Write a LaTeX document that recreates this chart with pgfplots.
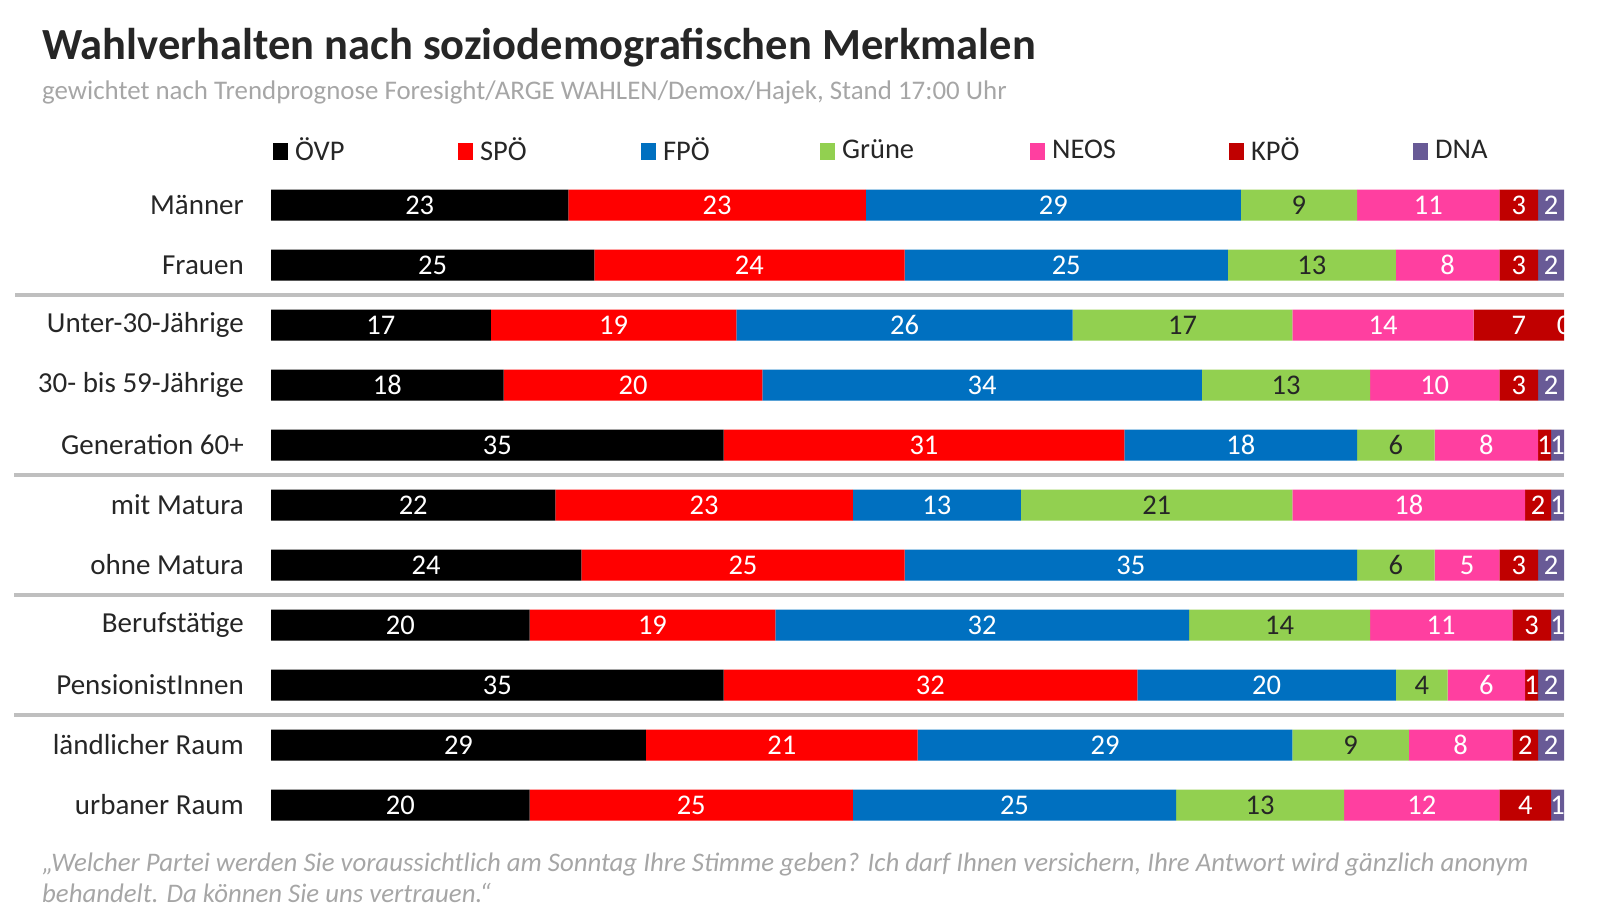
\documentclass[border=0pt]{standalone}
\usepackage{pgfplots}
\usepackage{pgfplotstable}
\pgfplotsset{compat=1.18}
\usepackage{fontspec}
\setmainfont{Carlito}
\definecolor{oevp}{HTML}{000000}
\definecolor{spoe}{HTML}{FF0000}
\definecolor{fpoe}{HTML}{0070C0}
\definecolor{gruene}{HTML}{92D050}
\definecolor{neos}{HTML}{FF3FA0}
\definecolor{kpoe}{HTML}{C00000}
\definecolor{dna}{HTML}{685A96}
\definecolor{sepgray}{HTML}{BFBFBF}
\definecolor{subgray}{HTML}{A6A6A6}
\definecolor{titlecol}{HTML}{262626}
\definecolor{labcol}{HTML}{262626}

\pgfplotstableread{
row v1 v2 v3 v4 v5 v6 v7
0 23 23 29 9 11 3 2
1 25 24 25 13 8 3 2
2 17 19 26 17 14 7 0
3 18 20 34 13 10 3 2
4 35 31 18 6 8 1 1
5 22 23 13 21 18 2 1
6 24 25 35 6 5 3 2
7 20 19 32 14 11 3 1
8 35 32 20 4 6 1 2
9 29 21 29 9 8 2 2
10 20 25 25 13 12 4 1
}\data
\pgfplotstablecreatecol[create col/expr={\thisrow{v1}/2}]{m1}\data
\pgfplotstablecreatecol[create col/expr={\thisrow{v1}+\thisrow{v2}/2}]{m2}\data
\pgfplotstablecreatecol[create col/expr={\thisrow{v1}+\thisrow{v2}+\thisrow{v3}/2}]{m3}\data
\pgfplotstablecreatecol[create col/expr={\thisrow{v1}+\thisrow{v2}+\thisrow{v3}+\thisrow{v4}/2}]{m4}\data
\pgfplotstablecreatecol[create col/expr={\thisrow{v1}+\thisrow{v2}+\thisrow{v3}+\thisrow{v4}+\thisrow{v5}/2}]{m5}\data
\pgfplotstablecreatecol[create col/expr={\thisrow{v1}+\thisrow{v2}+\thisrow{v3}+\thisrow{v4}+\thisrow{v5}+\thisrow{v6}/2}]{m6}\data
\pgfplotstablecreatecol[create col/expr={\thisrow{v1}+\thisrow{v2}+\thisrow{v3}+\thisrow{v4}+\thisrow{v5}+\thisrow{v6}+\thisrow{v7}/2}]{m7}\data

\pgfplotsset{
  commonaxis/.style={
    at={(271pt,-175pt)}, anchor=north west,
    scale only axis, width=1293pt, height=660pt,
    xmin=0, xmax=100, ymin=-0.5, ymax=10.5, y dir=reverse,
  },
  lab/.style={draw=none, mark=none, nodes near coords, point meta=explicit symbolic,
    every node near coord/.style={anchor=center, inner sep=0pt, text=#1,
      font=\fontsize{28.5}{30}\selectfont}},
}

\begin{document}
\begin{tikzpicture}[x=1pt,y=1pt]
\useasboundingbox (0,0) rectangle (1616,-909);
\node[anchor=base west, inner sep=0pt, text=titlecol, font=\fontsize{44.5}{48}\selectfont\bfseries] at (42,-60) {Wahlverhalten nach soziodemografischen Merkmalen};
\node[anchor=base west, inner sep=0pt, text=subgray, font=\fontsize{26.9}{30}\selectfont] at (42,-100) {gewichtet nach Trendprognose Foresight/ARGE WAHLEN/Demox/Hajek, Stand 17:00 Uhr};

\begin{axis}[commonaxis,
  xbar stacked, bar width=31pt,
  axis line style={draw=none},
  xtick=\empty,
  ytick={0,...,10},
  yticklabels={Männer, Frauen, Unter-30-Jährige, 30- bis 59-Jährige, Generation 60+, mit Matura, ohne Matura, Berufstätige, PensionistInnen, ländlicher Raum, urbaner Raum},
  major tick length=0pt,
  yticklabel style={anchor=east, inner sep=0pt, xshift=-27pt, font=\fontsize{29}{31}\selectfont, text=titlecol},
  legend columns=7,
  legend style={draw=none, fill=none, at={(axis description cs:0.0015,1.0379)}, anchor=west,
    inner sep=0pt, nodes={inner sep=0pt}, font=\fontsize{28.5}{30}\selectfont, text=titlecol,
    /tikz/every even column/.style={column sep=0pt}, /tikz/every odd column/.style={column sep=0pt}},
  legend image code/.code={\fill[#1, draw=none] (0pt,-10pt) rectangle (15pt,7pt);},
]
\addplot[fill=oevp, draw=none] table[x=v1, y=row] {\data};
\addlegendentry{\hspace{7pt}\makebox[163pt][l]{ÖVP}}
\addplot[fill=spoe, draw=none] table[x=v2, y=row] {\data};
\addlegendentry{\hspace{7pt}\makebox[161pt][l]{SPÖ}}
\addplot[fill=fpoe, draw=none] table[x=v3, y=row] {\data};
\addlegendentry{\hspace{7pt}\makebox[157pt][l]{FPÖ}}
\addplot[fill=gruene, draw=none] table[x=v4, y=row] {\data};
\addlegendentry{\hspace{7pt}\makebox[188pt][l]{Grüne}}
\addplot[fill=neos, draw=none] table[x=v5, y=row] {\data};
\addlegendentry{\hspace{7pt}\makebox[177pt][l]{NEOS}}
\addplot[fill=kpoe, draw=none] table[x=v6, y=row] {\data};
\addlegendentry{\hspace{7pt}\makebox[162pt][l]{KPÖ}}
\addplot[fill=dna, draw=none] table[x=v7, y=row] {\data};
\addlegendentry{\hspace{7pt}\makebox[60pt][l]{DNA}}
\end{axis}

\begin{axis}[commonaxis, hide axis]
\addplot[lab=white] table[x=m1, y=row, meta=v1] {\data};
\addplot[lab=white] table[x=m2, y=row, meta=v2] {\data};
\addplot[lab=white] table[x=m3, y=row, meta=v3] {\data};
\addplot[lab=labcol] table[x=m4, y=row, meta=v4] {\data};
\addplot[lab=white] table[x=m5, y=row, meta=v5] {\data};
\addplot[lab=white] table[x=m6, y=row, meta=v6] {\data};
\addplot[lab=white] table[x=m7, y=row, meta=v7] {\data};
\end{axis}

\draw[sepgray, line width=4pt] (15,-295) -- (1564,-295);
\draw[sepgray, line width=4pt] (14,-475) -- (1564,-475);
\draw[sepgray, line width=4pt] (14,-595) -- (1564,-595);
\draw[sepgray, line width=4pt] (14,-715) -- (1564,-715);

\node[anchor=base west, inner sep=0pt, text=subgray, font=\fontsize{26.8}{30}\selectfont\itshape] at (42,-871) {„Welcher Partei werden Sie voraussichtlich am Sonntag Ihre Stimme geben? Ich darf Ihnen versichern, Ihre Antwort wird gänzlich anonym};
\node[anchor=base west, inner sep=0pt, text=subgray, font=\fontsize{26.8}{30}\selectfont\itshape] at (42,-902) {behandelt. Da können Sie uns vertrauen.“};
\end{tikzpicture}
\end{document}
